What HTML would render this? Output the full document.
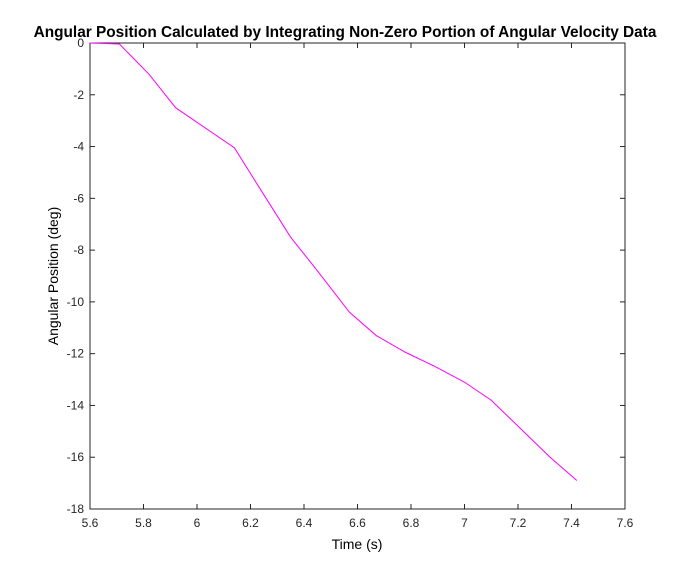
<!DOCTYPE html>
<html><head><meta charset="utf-8"><style>
body{margin:0;background:#fff;}
svg text{font-family:"Liberation Sans",Arial,sans-serif;}
</style></head><body>
<svg id="chart" width="691" height="572">
<rect x="0" y="0" width="691" height="572" fill="#fff"/>
<text x="345" y="37" text-anchor="middle" font-size="15.4" font-weight="bold">Angular Position Calculated by Integrating Non-Zero Portion of Angular Velocity Data</text>
<g id="axes"></g>
<polyline id="line" fill="none" stroke="#ff00ff" stroke-width="1"/>
<text x="357" y="549" text-anchor="middle" font-size="14">Time (s)</text>
<text transform="translate(58,276) rotate(-90)" text-anchor="middle" font-size="14">Angular Position (deg)</text>
</svg>
<script>
const times=[5.6,5.71,5.82,5.92,6.14,6.24,6.35,6.45,6.57,6.67,6.78,6.89,7.0,7.1,7.21,7.32,7.42];
const positions=[0,-0.04,-1.2,-2.5,-4.05,-5.7,-7.5,-8.8,-10.4,-11.3,-11.95,-12.5,-13.1,-13.8,-14.9,-16.0,-16.9];
const xTicks=[5.6,5.8,6,6.2,6.4,6.6,6.8,7,7.2,7.4,7.6];
const yTicks=[0,-2,-4,-6,-8,-10,-12,-14,-16,-18];
const L=90,R=625,T=43,B=509;
const xs=v=>L+(v-5.6)/2*(R-L);
const ys=v=>T+(0-v)/18*(B-T);
const NS='http://www.w3.org/2000/svg';
const g=document.getElementById('axes');
function mk(tag,attrs){const e=document.createElementNS(NS,tag);for(const k in attrs)e.setAttribute(k,attrs[k]);return e;}
const box=mk('rect',{x:L,y:T,width:R-L,height:B-T,fill:'none',stroke:'#262626','stroke-width':1});


g.appendChild(box);
xTicks.forEach(v=>{const x=xs(v);
 const t1=mk('line',{x1:x,x2:x,y1:B,y2:B-5,stroke:'#262626'});
 
 
 g.appendChild(t1);
 const t2=mk('line',{x1:x,x2:x,y1:T,y2:T+5,stroke:'#262626'});
 
 
 g.appendChild(t2);
 const tx=mk('text',{x:x,y:B+18,'text-anchor':'middle','font-size':12,fill:'#262626'});
 tx.textContent=String(v);
 
 
 g.appendChild(tx);});
yTicks.forEach(v=>{const y=ys(v);
 const t1=mk('line',{x1:L,x2:L+5,y1:y,y2:y,stroke:'#262626'});
 
 
 g.appendChild(t1);
 const t2=mk('line',{x1:R,x2:R-5,y1:y,y2:y,stroke:'#262626'});
 
 
 g.appendChild(t2);
 const tx=mk('text',{x:L-6,y:y+4,'text-anchor':'end','font-size':12,fill:'#262626'});
 tx.textContent=String(v);
 
 
 g.appendChild(tx);});
document.getElementById('line').setAttribute('points',times.map((t,i)=>xs(t)+','+ys(positions[i])).join(' '));
</script>
</body></html>
